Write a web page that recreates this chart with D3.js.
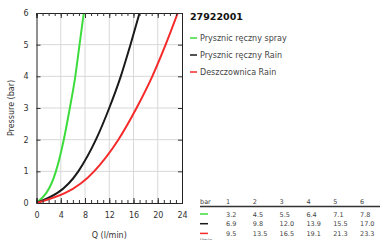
<!DOCTYPE html>
<html>
<head>
<meta charset="utf-8">
<style>
body { margin: 0; background: #fff; }
svg { display: block; font-family: 'DejaVu Sans', sans-serif; }
</style>
</head>
<body>
<div id="chart"></div>
<script src="https://d3js.org/d3.v7.min.js"></script>
<script>
// data
var title = "27922001";
var pressures = [1, 2, 3, 4, 5, 6];
var names = ["Prysznic ręczny spray", "Prysznic ręczny Rain", "Deszczownica Rain"];
var colors = ["#3ddc3d", "#1a1a1a", "#f52a2a"];
var flowSpray = [3.2, 4.5, 5.5, 6.4, 7.1, 7.8];
var flowRain = [6.9, 9.8, 12.0, 13.9, 15.5, 17.0];
var flowDeszcz = [9.5, 13.5, 16.5, 19.1, 21.3, 23.3];
var xTicks = [0, 4, 8, 12, 16, 20, 24];
var yTicks = [0, 1, 2, 3, 4, 5, 6];
var flows = [flowSpray, flowRain, flowDeszcz];

var svg = d3.select("#chart").append("svg")
  .attr("width", 380).attr("height", 240);

var x = d3.scaleLinear().domain([0, 24]).range([36.5, 182]);
var y = d3.scaleLinear().domain([0, 6]).range([203, 13]);

// grid
svg.append("g").selectAll("line.gx")
  .data(xTicks.slice(1, -1)).enter().append("line")
  .attr("x1", d => x(d)).attr("x2", d => x(d))
  .attr("y1", y(0)).attr("y2", y(6))
  .attr("stroke", "#d8d8d8").attr("stroke-width", 1);
svg.append("g").selectAll("line.gy")
  .data(yTicks.slice(1, -1)).enter().append("line")
  .attr("x1", x(0)).attr("x2", x(24))
  .attr("y1", d => y(d)).attr("y2", d => y(d))
  .attr("stroke", "#d8d8d8").attr("stroke-width", 1);

// curves
var line = d3.line()
  .x(d => x(d[0])).y(d => y(d[1]))
  .curve(d3.curveMonotoneX);
svg.append("defs").append("clipPath").attr("id", "clip")
  .append("rect").attr("x", x(0)).attr("y", y(6))
  .attr("width", x(24) - x(0)).attr("height", y(0) - y(6));
flows.forEach(function (f, i) {
  var pts = [[0, 0]].concat(f.map((q, j) => [q, pressures[j]]));
  svg.append("path")
    .datum(pts)
    .attr("clip-path", "url(#clip)")
    .attr("fill", "none")
    .attr("stroke", colors[i])
    .attr("stroke-width", 2)
    .attr("d", line);
});

// axes: bottom/top with minor ticks, left/right inward
var minor = d3.range(0, 25, 1);
var bottom = svg.append("g").attr("transform", "translate(0," + y(0) + ")")
  .call(d3.axisBottom(x).tickValues(xTicks).tickSize(-5).tickPadding(9).tickFormat(d3.format("d")));
svg.append("g").attr("transform", "translate(0," + y(0) + ")")
  .call(d3.axisBottom(x).tickValues(minor).tickSize(-3).tickFormat(""));
svg.append("g").attr("transform", "translate(0," + y(6) + ")")
  .call(d3.axisTop(x).tickValues(xTicks).tickSize(-5).tickFormat(""));
svg.append("g").attr("transform", "translate(0," + y(6) + ")")
  .call(d3.axisTop(x).tickValues(minor).tickSize(-3).tickFormat(""));
svg.append("g").attr("transform", "translate(" + x(0) + ",0)")
  .call(d3.axisLeft(y).tickValues(yTicks).tickSize(-4).tickPadding(8).tickFormat(d3.format("d")));
svg.append("g").attr("transform", "translate(" + x(24) + ",0)")
  .call(d3.axisRight(y).tickValues(yTicks).tickSize(-4).tickFormat(""));

svg.selectAll(".domain").attr("stroke", "#222");
svg.selectAll(".tick line").attr("stroke", "#333");
svg.selectAll(".tick text").attr("fill", "#333").style("font-size", "8px")
  .style("font-family", "'DejaVu Sans', sans-serif");

// axis titles
svg.append("text").attr("x", (x(0) + x(24)) / 2).attr("y", 238)
  .attr("text-anchor", "middle").attr("fill", "#333").style("font-size", "8px")
  .text("Q (l/min)");
svg.append("text")
  .attr("transform", "translate(14," + ((y(0) + y(6)) / 2) + ") rotate(-90)")
  .attr("text-anchor", "middle").attr("fill", "#333").style("font-size", "8px")
  .text("Pressure (bar)");

// title + legend
svg.append("text").attr("x", 190).attr("y", 20)
  .attr("font-weight", "bold").attr("fill", "#111").style("font-size", "9.5px")
  .text(title);
var leg = svg.append("g").selectAll("g").data(names).enter().append("g")
  .attr("transform", (d, i) => "translate(190," + (38 + i * 17) + ")");
leg.append("line").attr("x1", 0).attr("x2", 7)
  .attr("stroke", (d, i) => colors[i]).attr("stroke-width", 1.5);
leg.append("text").attr("x", 10).attr("y", 3)
  .attr("fill", "#444").style("font-size", "8px").text(d => d);

// table
var cx = d3.scaleLinear().domain([1, 6]).range([226, 360]);
var tbl = svg.append("g").style("font-size", "6.5px").attr("fill", "#444");
tbl.append("text").attr("x", 200).attr("y", 204).text("bar");
tbl.selectAll("text.h").data(pressures).enter().append("text")
  .attr("x", d => cx(d)).attr("y", 204).text(d => d);
tbl.append("line").attr("x1", 200).attr("x2", 380).attr("y1", 206.5).attr("y2", 206.5)
  .attr("stroke", "#333").attr("stroke-width", 1.5);
flows.forEach(function (f, i) {
  var ry = 214 + i * 9.7;
  tbl.append("line").attr("x1", 200).attr("x2", 208).attr("y1", ry).attr("y2", ry)
    .attr("stroke", colors[i]).attr("stroke-width", 1.5);
  tbl.selectAll(null).data(f).enter().append("text")
    .attr("x", (d, j) => cx(pressures[j])).attr("y", ry + 2.5)
    .text(d => d.toFixed(1));
});
tbl.append("text").attr("x", 200).attr("y", 242).style("font-size", "5px").text("l/min");
</script>
</body>
</html>
